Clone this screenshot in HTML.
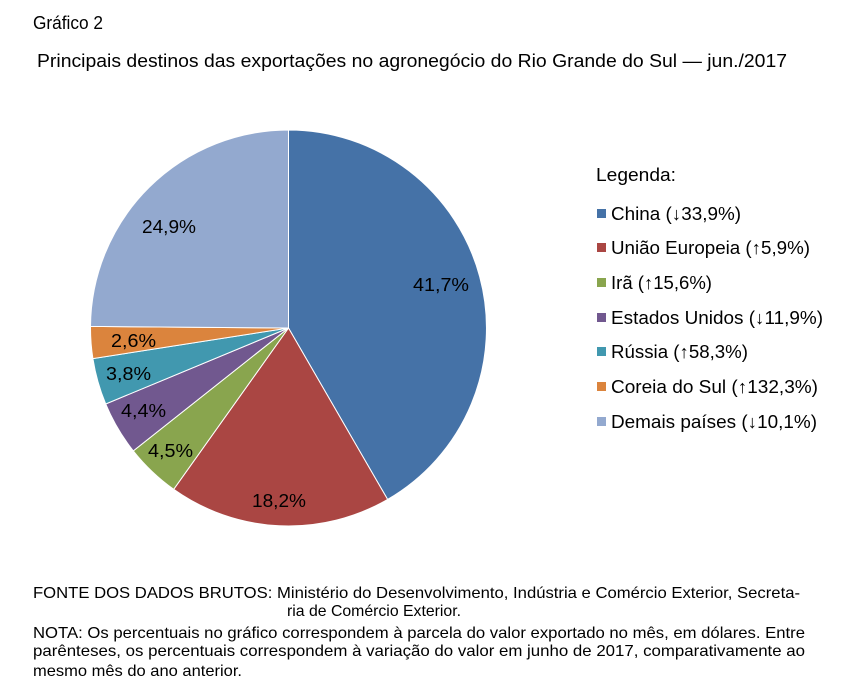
<!DOCTYPE html>
<html><head><meta charset="utf-8"><style>
html,body{margin:0;padding:0;background:#fff;}
body{width:848px;height:691px;position:relative;overflow:hidden;}
</style></head><body>
<svg width="848" height="691" style="position:absolute;left:0;top:0" font-family="Liberation Sans, Arial, sans-serif">
<g stroke="#fff" stroke-width="1">
<path d="M288.5,328 L288.5,130 A198,198 0 0 1 387.6,499.4 Z" fill="#4572A7"/>
<path d="M288.5,328 L387.6,499.4 A198,198 0 0 1 173.7,489.3 Z" fill="#AA4643"/>
<path d="M288.5,328 L173.7,489.3 A198,198 0 0 1 133.3,450.9 Z" fill="#89A54E"/>
<path d="M288.5,328 L133.3,450.9 A198,198 0 0 1 105.7,404.0 Z" fill="#71588F"/>
<path d="M288.5,328 L105.7,404.0 A198,198 0 0 1 92.9,358.6 Z" fill="#4198AF"/>
<path d="M288.5,328 L92.9,358.6 A198,198 0 0 1 90.5,326.4 Z" fill="#DB843D"/>
<path d="M288.5,328 L90.5,326.4 A198,198 0 0 1 288.5,130 Z" fill="#93A9CF"/>
</g>
<g font-size="18" fill="#000">
<text x="33" y="29" textLength="70" lengthAdjust="spacingAndGlyphs">Gráfico 2</text>
<text x="37" y="67" textLength="750" lengthAdjust="spacingAndGlyphs">Principais destinos das exportações no agronegócio do Rio Grande do Sul — jun./2017</text>
<text x="413" y="291" textLength="56" lengthAdjust="spacingAndGlyphs">41,7%</text>
<text x="252" y="507" textLength="54" lengthAdjust="spacingAndGlyphs">18,2%</text>
<text x="148" y="457" textLength="45" lengthAdjust="spacingAndGlyphs">4,5%</text>
<text x="121" y="417" textLength="45" lengthAdjust="spacingAndGlyphs">4,4%</text>
<text x="106" y="380" textLength="45" lengthAdjust="spacingAndGlyphs">3,8%</text>
<text x="111" y="347" textLength="45" lengthAdjust="spacingAndGlyphs">2,6%</text>
<text x="142" y="233" textLength="54" lengthAdjust="spacingAndGlyphs">24,9%</text>
<text x="596" y="181" textLength="80" lengthAdjust="spacingAndGlyphs">Legenda:</text>
<rect x="597" y="209" width="9" height="9" fill="#4572A7"/><text x="611" y="220" textLength="130" lengthAdjust="spacingAndGlyphs">China (↓33,9%)</text>
<rect x="597" y="243" width="9" height="9" fill="#AA4643"/><text x="611" y="254" textLength="199" lengthAdjust="spacingAndGlyphs">União Europeia (↑5,9%)</text>
<rect x="597" y="278" width="9" height="9" fill="#89A54E"/><text x="611" y="289" textLength="101" lengthAdjust="spacingAndGlyphs">Irã (↑15,6%)</text>
<rect x="597" y="313" width="9" height="9" fill="#71588F"/><text x="611" y="324" textLength="212" lengthAdjust="spacingAndGlyphs">Estados Unidos (↓11,9%)</text>
<rect x="597" y="347" width="9" height="9" fill="#4198AF"/><text x="611" y="358" textLength="137" lengthAdjust="spacingAndGlyphs">Rússia (↑58,3%)</text>
<rect x="597" y="382" width="9" height="9" fill="#DB843D"/><text x="611" y="393" textLength="207" lengthAdjust="spacingAndGlyphs">Coreia do Sul (↑132,3%)</text>
<rect x="597" y="417" width="9" height="9" fill="#93A9CF"/><text x="611" y="428" textLength="206" lengthAdjust="spacingAndGlyphs">Demais países (↓10,1%)</text>
</g>
<g font-size="16" fill="#000">
<text x="33" y="598" textLength="767" lengthAdjust="spacingAndGlyphs">FONTE DOS DADOS BRUTOS: Ministério do Desenvolvimento, Indústria e Comércio Exterior, Secreta-</text>
<text x="287" y="616" textLength="174" lengthAdjust="spacingAndGlyphs">ria de Comércio Exterior.</text>
<text x="33" y="638" textLength="772" lengthAdjust="spacingAndGlyphs">NOTA: Os percentuais no gráfico correspondem à parcela do valor exportado no mês, em dólares. Entre</text>
<text x="33" y="656" textLength="772" lengthAdjust="spacingAndGlyphs">parênteses, os percentuais correspondem à variação do valor em junho de 2017, comparativamente ao</text>
<text x="33" y="676" textLength="209" lengthAdjust="spacingAndGlyphs">mesmo mês do ano anterior.</text>
</g>
</svg>
</body></html>
